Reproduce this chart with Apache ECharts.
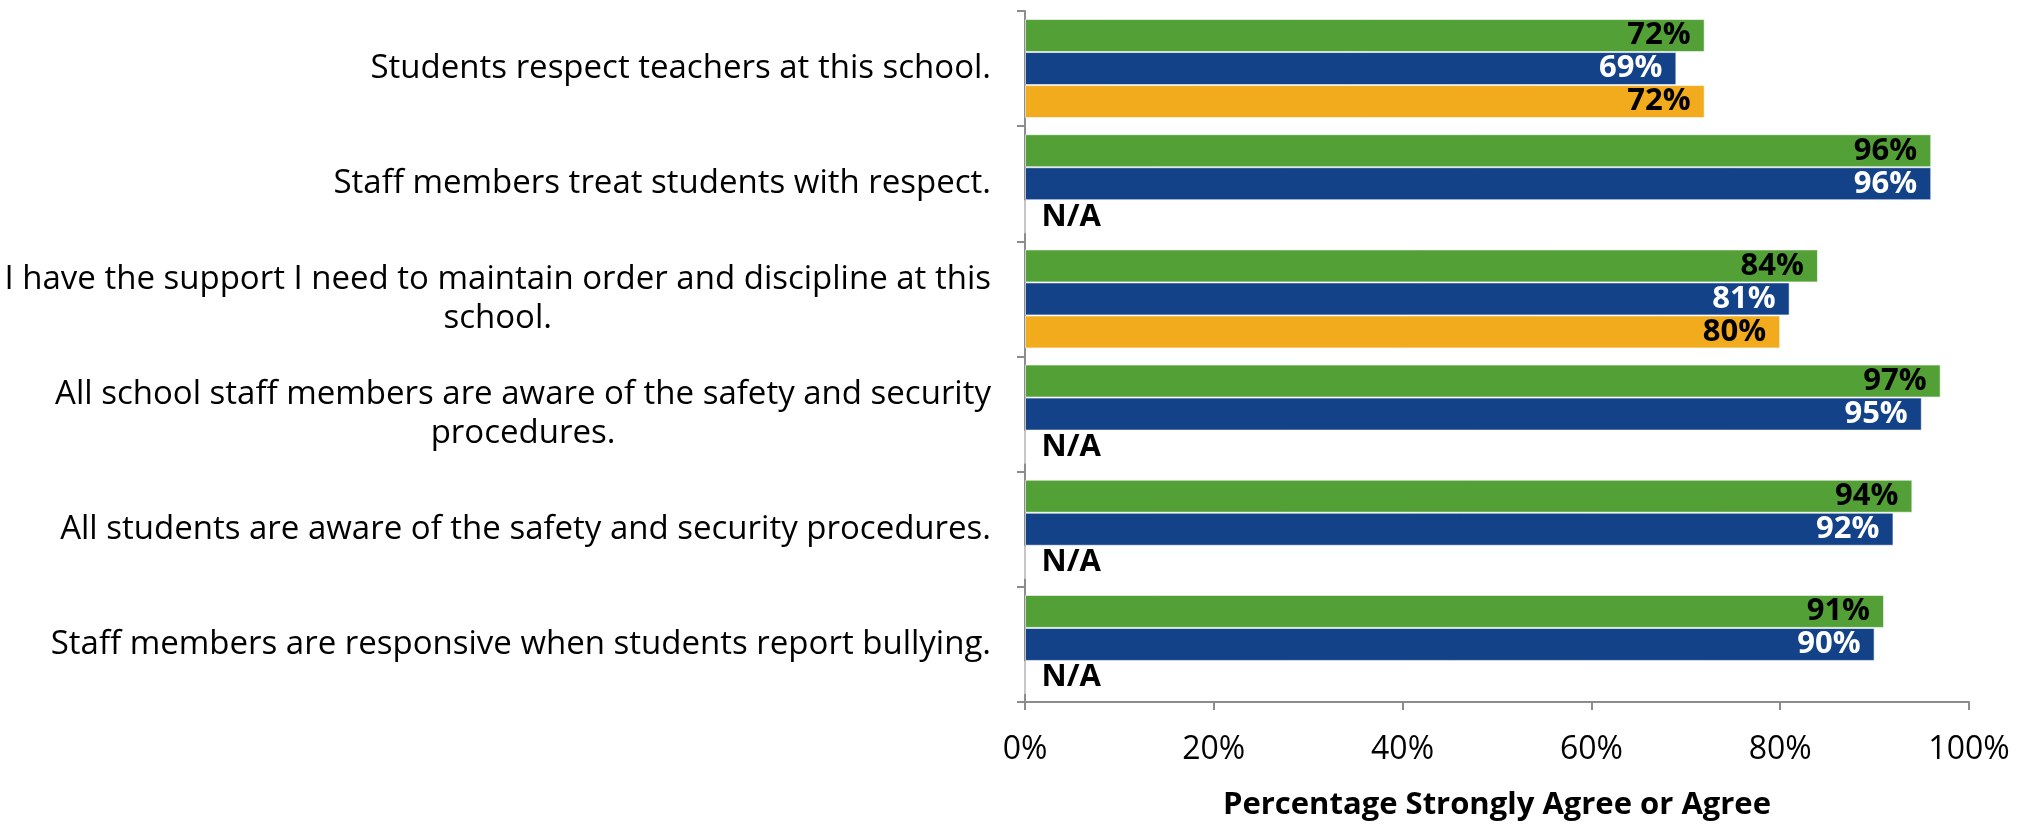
<!DOCTYPE html>
<html>
<head>
<meta charset="utf-8">
<script src="https://cdn.jsdelivr.net/npm/echarts@6/dist/echarts.min.js"></script>
<style>
  html, body { margin: 0; padding: 0; background: #ffffff; }
  #chart { width: 2030px; height: 826px; }
</style>
</head>
<body>
<div id="chart"></div>
<script>
// Survey statements (top to bottom)
const categories = [
  'Students respect teachers at this school.',
  'Staff members treat students with respect.',
  'I have the support I need to maintain order and discipline at this\nschool.',
  'All school staff members are aware of the safety and security\nprocedures.',
  'All students are aware of the safety and security procedures.',
  'Staff members are responsive when students report bullying.'
];

// Percentage Strongly Agree or Agree, one array per group; null = N/A
const greenValues  = [72, 96, 84, 97, 94, 91];
const blueValues   = [69, 96, 81, 95, 92, 90];
const orangeValues = [72, null, 80, null, null, null];

const xTicks = [0, 20, 40, 60, 80, 100];

const FONT = '"Open Sans", sans-serif';
const AXIS_GREY = '#8c8c8c';

function makeData(values) {
  return values.map(v => v === null
    ? { value: 0, label: { show: true, position: 'right', distance: 16, color: '#000', formatter: 'N/A' } }
    : v);
}

function series(name, values, color, labelColor) {
  return {
    name: name,
    type: 'bar',
    data: makeData(values),
    barGap: '0%',
    barCategoryGap: '14%',
    itemStyle: { color: color, borderColor: 'rgba(255,255,255,0.6)', borderWidth: 1 },
    label: {
      show: true,
      position: 'insideRight',
      distance: 14,
      color: labelColor,
      fontFamily: FONT,
      fontWeight: 'bold',
      fontSize: 31,
      formatter: p => p.value + '%'
    },
    emphasis: { disabled: true },
    animation: false
  };
}

const chart = echarts.init(document.getElementById('chart'), null, { renderer: 'canvas' });
chart.setOption({
  backgroundColor: '#ffffff',
  animation: false,
  grid: { left: 1025, right: 61, top: 11, bottom: 120, containLabel: false },
  xAxis: {
    type: 'value',
    min: xTicks[0],
    max: xTicks[xTicks.length - 1],
    interval: xTicks[1] - xTicks[0],
    name: 'Percentage Strongly Agree or Agree',
    nameLocation: 'middle',
    nameGap: 88,
    nameTextStyle: { fontFamily: FONT, fontWeight: 'bold', fontSize: 31, color: '#000' },
    axisLine: { show: true, lineStyle: { color: AXIS_GREY, width: 2 } },
    axisTick: { show: true, length: 8, lineStyle: { color: AXIS_GREY, width: 2 } },
    splitLine: { show: false },
    axisLabel: {
      margin: 32,
      fontFamily: FONT,
      fontSize: 32,
      color: '#000',
      formatter: '{value}%'
    }
  },
  yAxis: {
    type: 'category',
    inverse: true,
    data: categories,
    axisLine: { show: true, lineStyle: { color: AXIS_GREY, width: 2 } },
    axisTick: { show: true, length: 8, lineStyle: { color: AXIS_GREY, width: 2 } },
    axisLabel: {
      margin: 34,
      fontFamily: FONT,
      fontSize: 33,
      color: '#000',
      lineHeight: 39,
      formatter: v => v.split('\n').map(l => '{c|' + l + '}').join('\n'),
      rich: { c: { align: 'center', fontFamily: FONT, fontSize: 33, lineHeight: 39, color: '#000' } }
    }
  },
  series: [
    series('Green', greenValues, '#53a136', '#000000'),
    series('Blue', blueValues, '#134288', '#ffffff'),
    series('Orange', orangeValues, '#f1ab1c', '#000000')
  ]
});
</script>
</body>
</html>
